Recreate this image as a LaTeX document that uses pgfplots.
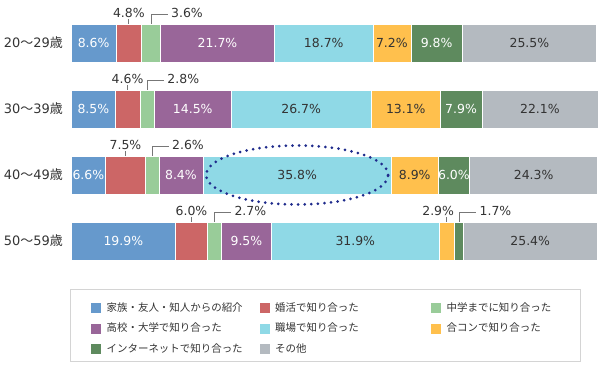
\documentclass[border=0pt]{standalone}
\usepackage{pgfplots}
\pgfplotsset{compat=1.18}
\usepackage{fontspec}
\setmainfont{Noto Sans CJK JP}
\newfontfamily\numfont{DejaVu Sans}
\definecolor{c1}{HTML}{6699CC}
\definecolor{c2}{HTML}{CC6666}
\definecolor{c3}{HTML}{99CC99}
\definecolor{c4}{HTML}{996699}
\definecolor{c5}{HTML}{8FD9E6}
\definecolor{c6}{HTML}{FFC04D}
\definecolor{c7}{HTML}{5E8A5E}
\definecolor{c8}{HTML}{B4BAC0}
\definecolor{txt}{HTML}{333333}
\definecolor{ldrc}{HTML}{777777}
\definecolor{navy}{HTML}{1F2B8C}
\definecolor{frame}{HTML}{D4D4D4}
\tikzset{
  lw/.style={font=\numfont\fontsize{12.5}{12.5}\selectfont, text=white, inner sep=0pt},
  ld/.style={font=\numfont\fontsize{12.5}{12.5}\selectfont, text=txt, inner sep=0pt},
  ldr/.style={draw=ldrc, line width=0.75bp},
}
\newcommand{\barlabels}{%
% labels bar 0
\node[lw] at (axis cs:4.3,0) {8.6\%};
\node[lw] at (axis cs:27.85,0) {21.7\%};
\node[ld] at (axis cs:48.05,0) {18.7\%};
\node[ld] at (axis cs:61.0,0) {7.2\%};
\node[lw] at (axis cs:69.5,0) {9.8\%};
\node[ld] at (axis cs:87.15,0) {25.5\%};
\draw[ldr] (axis cs:11.0,-0.288) -- (axis cs:11.0,-0.36);
\node[ld, anchor=base] at (axis cs:11.0,-0.379) {4.8\%};
\draw[ldr] (axis cs:15.2,-0.288) |- (axis cs:18.4,-0.43);
\node[ld, anchor=base west] at (axis cs:19.0,-0.379) {3.6\%};
% bar 1
\node[lw] at (axis cs:4.25,1) {8.5\%};
\node[lw] at (axis cs:23.15,1) {14.5\%};
\node[ld] at (axis cs:43.75,1) {26.7\%};
\node[ld] at (axis cs:63.65,1) {13.1\%};
\node[lw] at (axis cs:74.15,1) {7.9\%};
\node[ld] at (axis cs:89.15,1) {22.1\%};
\draw[ldr] (axis cs:10.75,0.712) -- (axis cs:10.75,0.64);
\node[ld, anchor=base] at (axis cs:10.75,0.621) {4.6\%};
\draw[ldr] (axis cs:14.5,0.712) |- (axis cs:17.7,0.57);
\node[ld, anchor=base west] at (axis cs:18.3,0.621) {2.8\%};
% bar 2
\node[lw] at (axis cs:3.3,2) {6.6\%};
\node[lw] at (axis cs:20.9,2) {8.4\%};
\node[ld] at (axis cs:43.0,2) {35.8\%};
\node[ld] at (axis cs:65.35,2) {8.9\%};
\node[lw] at (axis cs:72.8,2) {6.0\%};
\node[ld] at (axis cs:87.95,2) {24.3\%};
\draw[ldr] (axis cs:10.35,1.712) -- (axis cs:10.35,1.64);
\node[ld, anchor=base] at (axis cs:10.35,1.621) {7.5\%};
\draw[ldr] (axis cs:15.4,1.712) |- (axis cs:18.6,1.57);
\node[ld, anchor=base west] at (axis cs:19.2,1.621) {2.6\%};
\draw[navy, line width=3bp, dash pattern=on 0pt off 6.6bp, line cap=round] (axis cs:43.0,2) ellipse [x radius=91bp, y radius=29.5bp];
% bar 3
\node[lw] at (axis cs:9.95,3) {19.9\%};
\node[lw] at (axis cs:33.35,3) {9.5\%};
\node[ld] at (axis cs:54.05,3) {31.9\%};
\node[ld] at (axis cs:87.3,3) {25.4\%};
\draw[ldr] (axis cs:22.9,2.712) -- (axis cs:22.9,2.64);
\node[ld, anchor=base] at (axis cs:22.9,2.621) {6.0\%};
\draw[ldr] (axis cs:27.25,2.712) |- (axis cs:30.45,2.57);
\node[ld, anchor=base west] at (axis cs:31.05,2.621) {2.7\%};
\draw[ldr] (axis cs:71.45,2.712) -- (axis cs:71.45,2.64);
\node[ld, anchor=base] at (axis cs:69.8,2.621) {2.9\%};
\draw[ldr] (axis cs:73.85,2.712) |- (axis cs:77.05,2.57);
\node[ld, anchor=base west] at (axis cs:77.65,2.621) {1.7\%};
}
\begin{document}
\begin{tikzpicture}
\useasboundingbox (0,0) rectangle (600bp,-377bp);
\begin{axis}[
  at={(71bp,-10bp)}, anchor=north west,
  scale only axis, width=526bp, height=264bp,
  xmin=0, xmax=100, ymin=-0.5, ymax=3.5, y dir=reverse,
  xbar stacked, bar width=38bp,
  axis line style={draw=none},
  major tick length=0pt,
  xtick=\empty,
  ytick={0,1,2,3},
  yticklabels={{\numfont 20}〜{\numfont 29}歳,{\numfont 30}〜{\numfont 39}歳,{\numfont 40}〜{\numfont 49}歳,{\numfont 50}〜{\numfont 59}歳},
  yticklabel style={font=\fontsize{13}{13}\selectfont, text=txt, inner sep=0pt, xshift=-8bp},
  clip=false,
  after end axis/.code={\barlabels},
  legend columns=3,
  legend cell align=left,
  legend image code/.code={\fill[#1] (0bp,-5.5bp) rectangle (11bp,5.5bp);},
  legend style={at={(axis description cs:0.0361,-0.106)}, anchor=north west,
    draw=none, fill=none, inner sep=0pt, row sep=9bp,
    font=\fontsize{10.5}{10.5}\selectfont, text=txt,
    nodes={inner sep=0pt, text height=8.5bp, text depth=1.5bp},
    /tikz/every odd column/.append style={column sep=5bp}},
]
\addplot[fill=c1, draw=white, line width=0.5bp] coordinates {(8.6,0) (8.5,1) (6.6,2) (19.9,3)};
\addlegendentry{\makebox[152bp][l]{家族・友人・知人からの紹介}}
\addplot[fill=c2, draw=white, line width=0.5bp] coordinates {(4.8,0) (4.6,1) (7.5,2) (6.0,3)};
\addlegendentry{\makebox[155bp][l]{婚活で知り合った}}
\addplot[fill=c3, draw=white, line width=0.5bp] coordinates {(3.6,0) (2.8,1) (2.6,2) (2.7,3)};
\addlegendentry{中学までに知り合った}
\addplot[fill=c4, draw=white, line width=0.5bp] coordinates {(21.7,0) (14.5,1) (8.4,2) (9.5,3)};
\addlegendentry{\makebox[152bp][l]{高校・大学で知り合った}}
\addplot[fill=c5, draw=white, line width=0.5bp] coordinates {(18.7,0) (26.7,1) (35.8,2) (31.9,3)};
\addlegendentry{\makebox[155bp][l]{職場で知り合った}}
\addplot[fill=c6, draw=white, line width=0.5bp] coordinates {(7.2,0) (13.1,1) (8.9,2) (2.9,3)};
\addlegendentry{合コンで知り合った}
\addplot[fill=c7, draw=white, line width=0.5bp] coordinates {(9.8,0) (7.9,1) (6.0,2) (1.7,3)};
\addlegendentry{\makebox[152bp][l]{インターネットで知り合った}}
\addplot[fill=c8, draw=white, line width=0.5bp] coordinates {(25.5,0) (22.1,1) (24.3,2) (25.4,3)};
\addlegendentry{\makebox[155bp][l]{その他}}
\end{axis}
\draw[frame, line width=1bp] (70bp,-289bp) rectangle (580bp,-361bp);
\end{tikzpicture}
\end{document}
